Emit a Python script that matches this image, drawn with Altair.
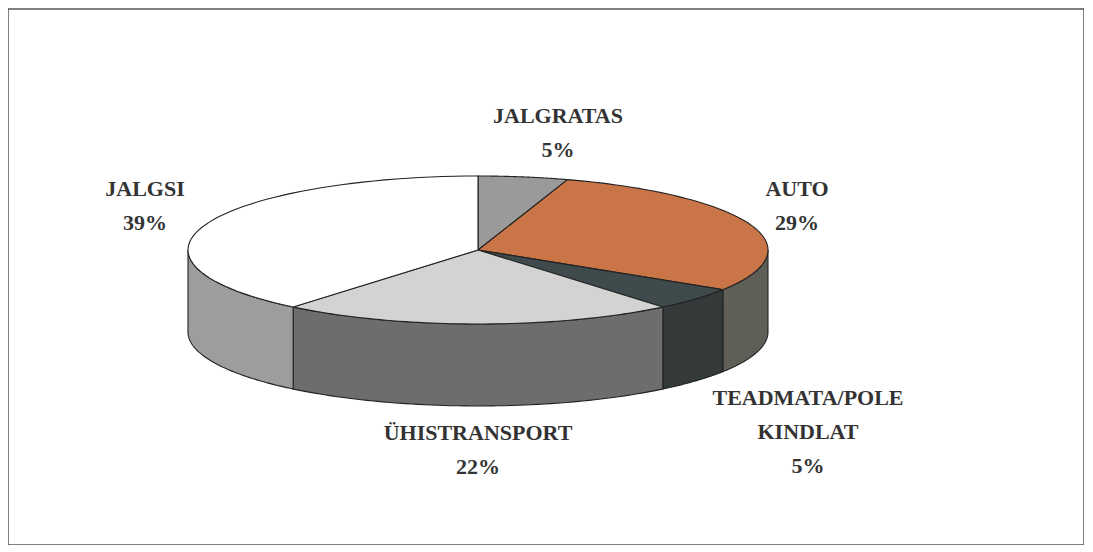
import altair as alt
import pandas as pd

# ---- data ----
CATEGORIES = ["JALGRATAS", "AUTO", "TEADMATA/POLE KINDLAT", "ÜHISTRANSPORT", "JALGSI"]
SHARES = [5, 29, 5, 22, 39]
LABEL_NAMES = ["JALGRATAS", "AUTO", "TEADMATA/POLE\nKINDLAT", "ÜHISTRANSPORT", "JALGSI"]

# ---- styles ----
TOP_COLORS = ["#9a9a9a", "#c97548", "#3e4a4c", "#d3d3d3", "#ffffff"]
SIDE_COLORS = ["#6e6e6e", "#5f5f58", "#34393a", "#6d6d6d", "#9d9d9d"]

# ---- layout (page pixels) ----
W, H = 1076, 536
X0, Y0 = 8, 9
CX, CY = 478, 250          # pie centre
RX, RY = 290, 74           # ellipse radii of the top face
DEPTH = 82                 # thickness of the 3D side
N = 60                     # arc resolution
LABEL_X = [558, 797, 808, 478, 145]
LABEL_Y = [116, 189, 398, 433, 189]   # first text line

slices = pd.DataFrame({
    "cat": CATEGORIES,
    "value": SHARES,
    "ord": list(range(len(CATEGORIES))),
    "top": TOP_COLORS,
    "side": SIDE_COLORS,
})

labels = pd.DataFrame({
    "text": [f"{n}\n{v}%" for n, v in zip(LABEL_NAMES, SHARES)],
    "lx": LABEL_X,
    "ly": LABEL_Y,
})

xs = alt.Scale(domain=[X0, X0 + W], nice=False, zero=False)
ys = alt.Scale(domain=[Y0, Y0 + H], nice=False, zero=False, reverse=True)

base = alt.Chart(slices).transform_window(
    cum="sum(value)", sort=[alt.SortField("ord")], frame=[None, 0]
).transform_calculate(
    a1="datum.cum / 100 * 2 * PI",
    a0="(datum.cum - datum.value) / 100 * 2 * PI",
)

side = base.transform_calculate(
    s="max(datum.a0, PI / 2)",
    e="min(datum.a1, 3 * PI / 2)",
).transform_filter(
    "datum.s < datum.e"
).transform_calculate(
    t=f"sequence(0, {2 * N + 2})"
).transform_flatten(["t"]).transform_calculate(
    ang=f"datum.t <= {N} ? datum.s + (datum.e - datum.s) * datum.t / {N} : datum.e - (datum.e - datum.s) * (datum.t - {N} - 1) / {N}",
).transform_calculate(
    px=f"{CX} + {RX} * sin(datum.ang)",
    py=f"{CY} - {RY} * cos(datum.ang) + (datum.t <= {N} ? 0 : {DEPTH})",
).mark_line(
    filled=True, interpolate="linear-closed", stroke="#222222", strokeWidth=1.1
).encode(
    x=alt.X("px:Q", scale=xs, axis=None),
    y=alt.Y("py:Q", scale=ys, axis=None),
    color=alt.Color("side:N", scale=None),
    detail="cat:N",
    order=alt.Order("t:Q"),
)

top = base.transform_calculate(
    t=f"sequence(0, {N + 2})"
).transform_flatten(["t"]).transform_calculate(
    ang=f"datum.a0 + (datum.a1 - datum.a0) * min(datum.t, {N}) / {N}",
).transform_calculate(
    px=f"datum.t <= {N} ? {CX} + {RX} * sin(datum.ang) : {CX}",
    py=f"datum.t <= {N} ? {CY} - {RY} * cos(datum.ang) : {CY}",
).mark_line(
    filled=True, interpolate="linear-closed", stroke="#222222", strokeWidth=1.1
).encode(
    x=alt.X("px:Q", scale=xs, axis=None),
    y=alt.Y("py:Q", scale=ys, axis=None),
    color=alt.Color("top:N", scale=None),
    detail="cat:N",
    order=alt.Order("t:Q"),
)

text = alt.Chart(labels).mark_text(
    font="Liberation Serif", fontSize=22, fontWeight="bold", lineBreak="\n",
    lineHeight=34, align="center", baseline="middle", color="#333333",
).encode(
    x=alt.X("lx:Q", scale=xs, axis=None),
    y=alt.Y("ly:Q", scale=ys, axis=None),
    text="text:N",
)

chart = alt.layer(side, top, text).properties(
    width=W, height=H,
    padding={"left": 0, "top": 1, "right": 0, "bottom": 0},
    background="white",
).configure_view(stroke="#555555", strokeWidth=1.5)

chart.save("out.html", embed_options={"renderer": "svg", "actions": False})
